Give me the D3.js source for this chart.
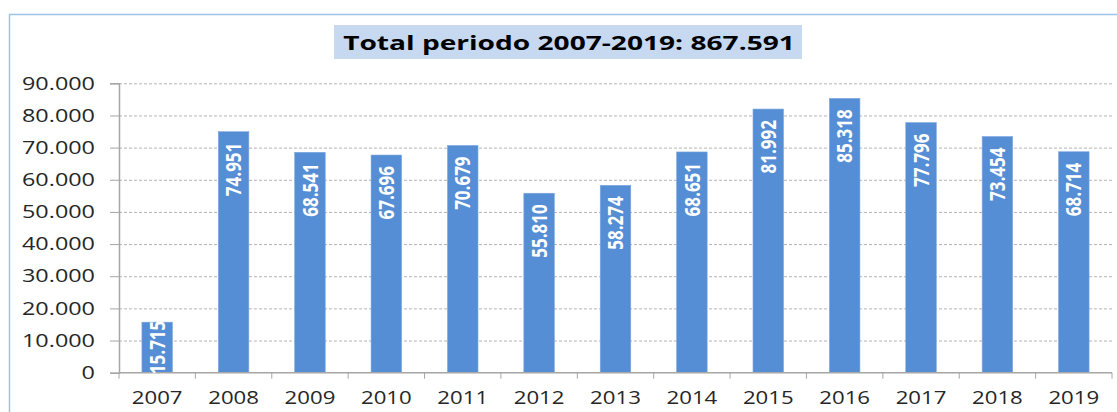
<!DOCTYPE html>
<html>
<head>
<meta charset="utf-8">
<script src="https://cdn.jsdelivr.net/npm/d3@7"></script>
<style>
	body { margin: 0; background: #fff; }
	svg { display: block; }
</style>
</head>
<body>
<div id="chart"></div>
<script>
var years = ["2007", "2008", "2009", "2010", "2011", "2012", "2013", "2014", "2015", "2016", "2017", "2018", "2019"],
	values = [15715, 74951, 68541, 67696, 70679, 55810, 58274, 68651, 81992, 85318, 77796, 73454, 68714],
	yTicks = [0, 10000, 20000, 30000, 40000, 50000, 60000, 70000, 80000, 90000],
	titleText = "Total periodo 2007-2019:";

var width = 1117,
	height = 412,
	plot = { left: 119, right: 1112, top: 83.3, bottom: 372.7 },
	barColor = "#558ed5",
	gridColor = "#b4b4b4",
	axisColor = "#a6a6a6",
	textColor = "#262626";

// spanish number format: 867.591
var locale = d3.formatLocale({ decimal: ",", thousands: ".", grouping: [3], currency: ["", " €"] }),
	fmt = locale.format(",d");

var svg = d3.select("#chart")
	.append("svg")
	.attr("width", width)
	.attr("height", height);

// outer frame (only top and left are visible)
svg.append("path")
	.attr("d", "M9.5," + (height + 5) + "V14.5H" + (width + 5))
	.attr("fill", "none")
	.attr("stroke", "#9dc3e6")
	.attr("stroke-width", 1.5);

var x = d3.scaleBand()
	.domain(years)
	.range([plot.left, plot.right])
	.paddingInner(0.6)
	.paddingOuter(0.3);

var y = d3.scaleLinear()
	.domain([0, 90000])
	.range([plot.bottom, plot.top]);

// dashed gridlines
svg.append("g")
	.attr("transform", "translate(" + plot.left + ",0)")
	.call(d3.axisLeft(y).tickValues(yTicks.slice(1)).tickSize(-(plot.right - plot.left)).tickFormat(""))
	.call(g => g.select(".domain").remove())
	.call(g => g.selectAll("line")
		.attr("stroke", gridColor)
		.attr("stroke-dasharray", "3,2"));

// y axis
var yAxisGroup = svg.append("g")
	.attr("transform", "translate(" + plot.left + ",0)")
	.call(d3.axisLeft(y).tickValues(yTicks).tickSize(9).tickPadding(15).tickFormat(fmt));

yAxisGroup.select(".domain").attr("stroke", axisColor).attr("stroke-width", 1.5);
yAxisGroup.selectAll(".tick line").attr("stroke", axisColor);
yAxisGroup.selectAll(".tick text")
	.attr("x", null)
	.attr("transform", "translate(-24,0) scale(1.3,1)")
	.attr("fill", textColor)
	.style("font-family", "'Open Sans', sans-serif")
	.style("font-size", "18px");

// bars
svg.append("g")
	.selectAll("rect")
	.data(values)
	.enter()
	.append("rect")
	.attr("x", (d, i) => x(years[i]))
	.attr("y", d => y(d))
	.attr("width", x.bandwidth())
	.attr("height", d => y(0) - y(d))
	.attr("fill", barColor)
	.attr("stroke", "#7fa9df")
	.attr("stroke-width", 0.6);

// x axis line and tick marks at the category boundaries
svg.append("line")
	.attr("x1", plot.left)
	.attr("x2", plot.right)
	.attr("y1", plot.bottom)
	.attr("y2", plot.bottom)
	.attr("stroke", axisColor)
	.attr("stroke-width", 1.5);

svg.append("g")
	.selectAll("line")
	.data(d3.range(years.length + 1))
	.enter()
	.append("line")
	.attr("x1", i => plot.left + i * x.step())
	.attr("x2", i => plot.left + i * x.step())
	.attr("y1", plot.bottom)
	.attr("y2", plot.bottom + 6)
	.attr("stroke", axisColor);

// year labels
svg.append("g")
	.selectAll("text")
	.data(years)
	.enter()
	.append("text")
	.attr("transform", d => "translate(" + (x(d) + x.bandwidth() / 2) + ",404) scale(1.2,1)")
	.attr("text-anchor", "middle")
	.attr("fill", textColor)
	.style("font-family", "'Open Sans', sans-serif")
	.style("font-size", "18.5px")
	.text(d => d);

// value labels inside the bars, rotated
var labels = svg.append("g")
	.selectAll("text")
	.data(values)
	.enter()
	.append("text")
	.attr("text-anchor", "end")
	.attr("dy", "0.36em")
	.attr("fill", "#fff")
	.style("font-family", "'Open Sans', sans-serif")
	.style("font-weight", "bold")
	.style("font-size", "17px")
	.text(d => fmt(d));

labels.each(function (d, i) {
	var len = this.getComputedTextLength(),
		barH = y(0) - y(d),
		offset = 11;
	if (barH - len < offset) {
		offset = (barH - len) / 2;
	}
	d3.select(this).attr("transform",
		"translate(" + (x(years[i]) + x.bandwidth() / 2) + "," + (y(d) + offset) + ") scale(1.25,1) rotate(-90)");
});

// title with its box
var titleGroup = svg.append("g");
var titleBox = titleGroup.append("rect")
	.attr("fill", "#c6d9f1");
var title = titleGroup.append("text")
	.attr("text-anchor", "middle")
	.attr("fill", "#000")
	.style("font-family", "'Open Sans', sans-serif")
	.style("font-weight", "bold")
	.style("font-size", "19px")
	.text(titleText + "  " + fmt(d3.sum(values)));

var titleLen = title.node().getComputedTextLength(),
	titleScale = 452 / titleLen;
title.attr("transform", "translate(569,49.5) scale(" + titleScale + ",1)");
titleBox
	.attr("x", 334)
	.attr("y", 25)
	.attr("width", 468)
	.attr("height", 34);
</script>
</body>
</html>
